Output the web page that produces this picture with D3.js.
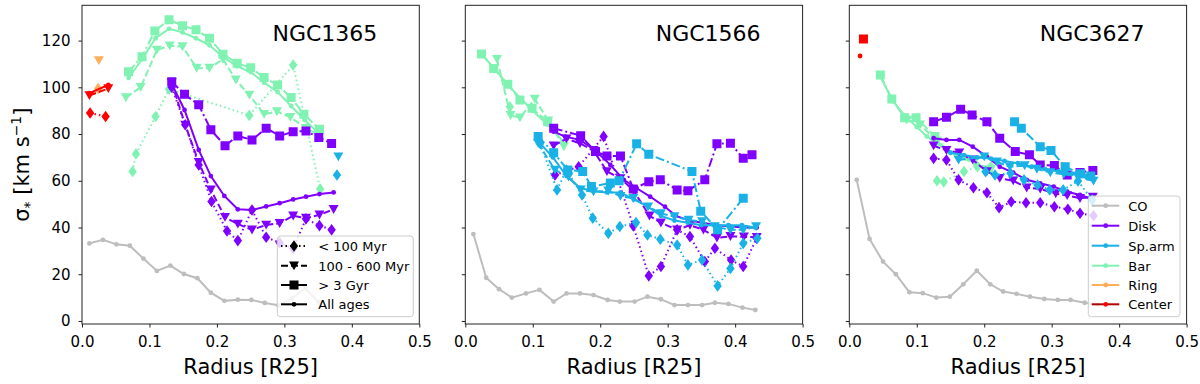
<!DOCTYPE html>
<html>
<head>
<meta charset="utf-8">
<script src="https://d3js.org/d3.v7.min.js"></script>
<style>
  body { margin: 0; background: #fff; }
  svg text { font-family: "DejaVu Sans", sans-serif; fill: #000; }
</style>
</head>
<body>
<div id="canvas"></div>
<script>
// ---- tick labels / categories
var xTicks = [0, 0.1, 0.2, 0.3, 0.4, 0.5];
var yTicks = [0, 20, 40, 60, 80, 100, 120];
var galaxies = ["NGC1365", "NGC1566", "NGC3627"];
var envNames = ["CO", "Disk", "Sp.arm", "Bar", "Ring", "Center"];
var ageNames = ["< 100 Myr", "100 - 600 Myr", "> 3 Gyr", "All ages"];

// ---- NGC1365  [radius, sigma]
var co1 = [[0.011,33.2],[0.031,34.7],[0.051,32.8],[0.071,32.2],[0.091,26.7],[0.111,21.4],[0.131,23.7],[0.151,20.1],[0.171,18.3],[0.191,12.1],[0.211,8.6],[0.231,9.1],[0.251,9.0],[0.271,7.7],[0.291,6.7],[0.311,9.5],[0.331,14],[0.351,8]];
var bar1Old = [[0.069,106.7],[0.089,113.1],[0.108,124.1],[0.129,128.9],[0.149,126.4],[0.169,124.6],[0.189,121.0],[0.209,114.2],[0.230,110.3],[0.250,108.4],[0.270,104.2],[0.290,101.0],[0.310,95.6],[0.329,88.5],[0.352,82.0]];
var bar1All = [[0.069,104],[0.089,112],[0.109,121],[0.129,125],[0.149,123.5],[0.169,121],[0.189,118],[0.209,113],[0.230,109],[0.250,106.5],[0.270,102],[0.290,98],[0.310,92],[0.330,86],[0.352,80]];
var bar1Mid = [[0.065,95.6],[0.087,100],[0.111,116],[0.130,117.8],[0.149,117.4],[0.170,108.2],[0.189,108.2],[0.209,112],[0.228,103.2],[0.248,96.7],[0.270,88.5],[0.289,89.6],[0.309,87.2],[0.332,82.5],[0.351,79.6]];
var bar1Young = [[0.075,64],[0.080,71.5],[0.109,87.5],[0.129,99.2],[0.248,88],[0.313,109.5],[0.353,56.5]];
var disk1Old = [[0.133,102.4],[0.152,97],[0.173,92.5],[0.191,81.8],[0.212,75],[0.231,79.2],[0.252,77.5],[0.273,82.5],[0.293,79.2],[0.313,81],[0.332,81.3],[0.351,78.5],[0.370,76]];
var disk1All = [[0.133,101.5],[0.152,90.3],[0.173,73.2],[0.191,62],[0.211,53.5],[0.231,47.8],[0.252,47.5],[0.273,49],[0.293,50.4],[0.313,52],[0.332,53.2],[0.352,54.3],[0.373,55]];
var disk1Mid = [[0.133,102],[0.153,83.9],[0.173,67.9],[0.191,56.1],[0.212,44.4],[0.231,41.5],[0.252,39],[0.273,41.1],[0.293,41.8],[0.313,45],[0.332,44],[0.352,45.4],[0.373,47.8]];
var disk1Young = [[0.133,100],[0.153,84],[0.173,66.8],[0.192,51.1],[0.215,38.5],[0.231,34.4],[0.252,47.5],[0.273,35.8],[0.293,33.5],[0.313,31],[0.332,43.7],[0.352,40.8],[0.370,39]];
var arm1Mid = [[0.380,70.3]];
var arm1Young = [[0.378,62.5]];
var ring1Mid = [[0.025,111.5]];
var ring1Young = [[0.024,99.5]];
var center1Young = [[0.012,89],[0.035,87.5]];
var center1Mid = [[0.011,96.5],[0.039,99.5]];
var center1All = [[0.011,97.5],[0.039,101]];

// ---- NGC1566
var co2 = [[0.012,37.2],[0.031,18.5],[0.050,13.6],[0.069,10.0],[0.090,11.8],[0.110,13.3],[0.131,8.3],[0.150,11.8],[0.170,11.8],[0.190,11.1],[0.211,9.0],[0.229,8.3],[0.251,8.3],[0.270,10.4],[0.290,9.3],[0.310,6.8],[0.330,6.8],[0.351,6.8],[0.370,7.8],[0.390,7.3],[0.411,5.7],[0.430,4.7]];
var bar2Old = [[0.024,114.3],[0.042,108],[0.063,101.3],[0.081,94.6],[0.099,91],[0.122,85.3]];
var bar2All = [[0.024,114],[0.044,108],[0.063,101],[0.083,95],[0.100,90],[0.122,84],[0.148,76]];
var bar2Mid = [[0.047,112],[0.067,88],[0.081,87],[0.103,95],[0.123,85.7],[0.146,74.6]];
var bar2Young = [[0.066,91.7]];
var disk2Old = [[0.131,82.5],[0.171,79.3],[0.193,72.5],[0.210,70.6],[0.230,70.6],[0.249,56.5],[0.272,59.6],[0.289,60.4],[0.314,56.1],[0.330,55.7],[0.355,60.4],[0.373,75.8],[0.393,76.1],[0.412,69.6],[0.425,71.1]];
var disk2All = [[0.131,81],[0.148,78.9],[0.170,77.5],[0.192,73.2],[0.215,66.8],[0.235,60.4],[0.254,56.8],[0.274,53.2],[0.296,48.9],[0.312,45],[0.332,43],[0.352,42],[0.372,41],[0.392,40.5],[0.412,40],[0.432,40]];
var disk2Mid = [[0.131,75],[0.150,78],[0.170,76],[0.190,73],[0.210,64],[0.230,61],[0.249,56],[0.273,45],[0.290,42],[0.314,39],[0.333,41],[0.353,39],[0.373,35.6],[0.393,36.2],[0.413,36],[0.432,35.8]];
var disk2Young = [[0.133,62.5],[0.168,66],[0.205,79],[0.249,40.7],[0.272,19.3],[0.290,23.3],[0.314,39],[0.333,36.1],[0.355,25.4],[0.370,31.1],[0.394,26.1],[0.412,23.3],[0.432,35.4]];
var arm2Old = [[0.108,79],[0.131,72],[0.152,64.6],[0.174,64],[0.187,57.5],[0.215,59],[0.228,60],[0.254,75.8],[0.272,71.3],[0.336,64],[0.349,47],[0.374,39],[0.412,52.5]];
var arm2All = [[0.108,77],[0.130,70],[0.150,62],[0.170,57],[0.190,55.5],[0.210,55],[0.230,55],[0.250,52],[0.270,49],[0.290,45],[0.310,43],[0.330,42],[0.350,41],[0.370,41],[0.390,41],[0.410,41],[0.430,40]];
var arm2Mid = [[0.108,76],[0.133,64.6],[0.153,61.7],[0.171,56.1],[0.190,55.3],[0.212,55.7],[0.230,53.4],[0.249,52.5],[0.271,48.9],[0.290,46],[0.310,44.7],[0.331,43.2],[0.351,42.5],[0.370,40.4],[0.393,39],[0.412,39],[0.431,40.4]];
var arm2Young = [[0.111,76],[0.136,56.1],[0.150,64.6],[0.173,53.9],[0.189,44],[0.212,37.5],[0.229,40.4],[0.253,42.1],[0.270,36.8],[0.289,35],[0.314,32.5],[0.330,24],[0.351,26.1],[0.374,15],[0.393,22.5],[0.412,33.2],[0.433,35.4]];

// ---- NGC3627
var co3 = [[0.011,60.4],[0.030,35.1],[0.050,25.4],[0.069,20],[0.089,12.3],[0.109,11.9],[0.129,10],[0.149,10.4],[0.169,15.7],[0.189,21.5],[0.209,15.7],[0.228,12.6],[0.248,11.6],[0.268,10.4],[0.289,9.4],[0.309,9],[0.328,9],[0.349,7.8],[0.368,7]];
var center3Old = [[0.021,120.7]];
var center3All = [[0.016,113.4]];
var bar3Old = [[0.046,105.3],[0.063,95],[0.082,87],[0.099,87],[0.127,79]];
var bar3All = [[0.046,104.5],[0.065,94],[0.082,88],[0.100,83],[0.115,79],[0.130,76],[0.150,72],[0.170,70],[0.190,67],[0.210,64]];
var bar3Mid = [[0.085,86],[0.105,84],[0.130,77],[0.160,70],[0.185,68],[0.210,65]];
var bar3Young = [[0.130,60],[0.140,59.5],[0.170,64],[0.190,66],[0.210,66]];
var disk3Old = [[0.125,85.3],[0.144,87.2],[0.165,90.6],[0.182,88.2],[0.204,85.3],[0.223,78.2],[0.246,72.5],[0.267,71.1],[0.283,66.8],[0.304,66.5],[0.323,62.5],[0.342,63.5],[0.361,64.4]];
var disk3All = [[0.125,78.2],[0.144,77.5],[0.163,77.5],[0.183,74.6],[0.204,70.3],[0.223,66],[0.243,63.5],[0.263,60.4],[0.283,58.9],[0.303,57.5],[0.323,55.3],[0.342,53.9],[0.357,52.5]];
var disk3Mid = [[0.125,75],[0.144,73],[0.163,72],[0.183,69],[0.204,64],[0.223,61.1],[0.243,60],[0.263,57],[0.283,56.5],[0.306,54.5],[0.323,53.7],[0.342,52.5],[0.361,53]];
var disk3Young = [[0.125,69.6],[0.144,68.9],[0.162,60.4],[0.184,57],[0.204,54.9],[0.222,48.5],[0.240,51],[0.262,50.6],[0.283,50.6],[0.304,48.9],[0.324,47.8],[0.342,46.1],[0.362,45]];
var arm3Old = [[0.245,85.3],[0.255,82.5],[0.283,74.6],[0.299,73],[0.320,66],[0.343,63],[0.358,62]];
var arm3All = [[0.150,72],[0.170,71],[0.190,70],[0.210,69.5],[0.230,68.5],[0.250,67.5],[0.270,66],[0.290,65],[0.310,64],[0.330,63],[0.350,62],[0.360,61.5]];
var arm3Mid = [[0.162,68.9],[0.200,70.3],[0.219,68.1],[0.238,66],[0.260,66.5],[0.278,65],[0.298,63.5],[0.318,62.8],[0.338,62],[0.362,59.9]];
var arm3Young = [[0.202,63.9],[0.216,62.5],[0.239,63.2],[0.259,60.4],[0.279,58.2],[0.297,56.1],[0.317,56.1],[0.339,59.9],[0.360,51.8]];

// colours of environments
var envColor = {"CO":"#bdbdbd","Disk":"#7f00ff","Sp.arm":"#1ab2e6","Bar":"#80f2b2","Ring":"#ffae5c","Center":"#ff0000"};

// series table: [panel, env, age, points]
var series = [
  [0,"CO","co",co1],
  [0,"Bar","> 3 Gyr",bar1Old],[0,"Bar","All ages",bar1All],[0,"Bar","100 - 600 Myr",bar1Mid],[0,"Bar","< 100 Myr",bar1Young],
  [0,"Disk","> 3 Gyr",disk1Old],[0,"Disk","All ages",disk1All],[0,"Disk","100 - 600 Myr",disk1Mid],[0,"Disk","< 100 Myr",disk1Young],
  [0,"Sp.arm","100 - 600 Myr",arm1Mid],[0,"Sp.arm","< 100 Myr",arm1Young],
  [0,"Ring","100 - 600 Myr",ring1Mid],[0,"Ring","< 100 Myr",ring1Young],
  [0,"Center","< 100 Myr",center1Young],[0,"Center","100 - 600 Myr",center1Mid],[0,"Center","All ages",center1All],

  [1,"CO","co",co2],
  [1,"Bar","> 3 Gyr",bar2Old],[1,"Bar","All ages",bar2All],[1,"Bar","100 - 600 Myr",bar2Mid],[1,"Bar","< 100 Myr",bar2Young],
  [1,"Disk","> 3 Gyr",disk2Old],[1,"Disk","All ages",disk2All],[1,"Disk","100 - 600 Myr",disk2Mid],[1,"Disk","< 100 Myr",disk2Young],
  [1,"Sp.arm","> 3 Gyr",arm2Old],[1,"Sp.arm","All ages",arm2All],[1,"Sp.arm","100 - 600 Myr",arm2Mid],[1,"Sp.arm","< 100 Myr",arm2Young],

  [2,"CO","co",co3],
  [2,"Center","> 3 Gyr",center3Old],[2,"Center","All ages",center3All],
  [2,"Bar","> 3 Gyr",bar3Old],[2,"Bar","All ages",bar3All],[2,"Bar","100 - 600 Myr",bar3Mid],[2,"Bar","< 100 Myr",bar3Young],
  [2,"Disk","> 3 Gyr",disk3Old],[2,"Disk","All ages",disk3All],[2,"Disk","100 - 600 Myr",disk3Mid],[2,"Disk","< 100 Myr",disk3Young],
  [2,"Sp.arm","> 3 Gyr",arm3Old],[2,"Sp.arm","All ages",arm3All],[2,"Sp.arm","100 - 600 Myr",arm3Mid],[2,"Sp.arm","< 100 Myr",arm3Young]
];

// line style + marker per age group
var ageStyle = {
  "< 100 Myr":     {dash: "1.5,3",      marker: "diamond"},
  "100 - 600 Myr": {dash: "7,3",        marker: "tri"},
  "> 3 Gyr":       {dash: "9,3,2,3",    marker: "square"},
  "All ages":      {dash: null,         marker: "dot"},
  "co":            {dash: null,         marker: "dot"}
};

function markerPath(m) {
  if (m == "square") return "M-4.5,-4.5h9v9h-9Z";
  if (m == "diamond") return "M0,-5.8L4.2,0L0,5.8L-4.2,0Z";
  if (m == "tri") return "M-5,-4.3L5,-4.3L0,4.6Z";
  return "M2.4,0A2.4,2.4 0 1,1 -2.4,0A2.4,2.4 0 1,1 2.4,0Z";
}

var W = 1200, H = 384;
var panelLeft = [82, 465.3, 849.3];
var pw = 337.3, plotTop = 5.3, ph = 318.7;

var svg = d3.select("#canvas").append("svg")
  .attr("width", W).attr("height", H);

var y = d3.scaleLinear().domain([-1.3, 135.1]).range([plotTop + ph, plotTop]);

var panels = panelLeft.map(function(left, i) {
  var x = d3.scaleLinear().domain([0, 0.5]).range([left, left + pw]);
  var g = svg.append("g");
  var clipId = "clip" + i;
  g.append("clipPath").attr("id", clipId)
    .append("rect").attr("x", left).attr("y", plotTop).attr("width", pw).attr("height", ph);
  var plot = g.append("g").attr("clip-path", "url(#" + clipId + ")");

  // x axis
  var xa = g.append("g").attr("transform", `translate(0,${plotTop + ph})`)
    .call(d3.axisBottom(x).tickValues(xTicks).tickSize(3.5).tickPadding(9).tickFormat(d3.format(".1f")));
  xa.select(".domain").remove();
  xa.selectAll("text").attr("font-size", 15).attr("font-family", "DejaVu Sans");
  xa.selectAll("line").attr("stroke", "#222");

  // y axis
  var ya = g.append("g").attr("transform", `translate(${left},0)`)
    .call(d3.axisLeft(y).tickValues(yTicks).tickSize(3.5).tickPadding(8)
      .tickFormat(i == 0 ? d3.format("d") : function() { return ""; }));
  ya.select(".domain").remove();
  ya.selectAll("text").attr("font-size", 15).attr("font-family", "DejaVu Sans");
  ya.selectAll("line").attr("stroke", "#222");

  // frame
  g.append("rect").attr("x", left).attr("y", plotTop).attr("width", pw).attr("height", ph)
    .attr("fill", "none").attr("stroke", "#222").attr("stroke-width", 1);

  // title
  g.append("text").text(galaxies[i])
    .attr("x", left + pw - 42).attr("y", 41)
    .attr("text-anchor", "end").attr("font-size", 22);

  // x label
  g.append("text").text("Radius [R25]")
    .attr("x", left + pw / 2).attr("y", 374)
    .attr("text-anchor", "middle").attr("font-size", 21);

  return {x: x, plot: plot};
});

// y label
var yl = svg.append("text")
  .attr("transform", `translate(29,${plotTop + ph / 2}) rotate(-90)`)
  .attr("text-anchor", "middle").attr("font-size", 21);
yl.append("tspan").text("σ");
yl.append("tspan").text("*").attr("font-size", 14).attr("dy", 5);
yl.append("tspan").text(" [km s").attr("dy", -5);
yl.append("tspan").text("−1").attr("font-size", 14).attr("dy", -8);
yl.append("tspan").text("]").attr("dy", 8);

// draw series
series.forEach(function(s) {
  var p = panels[s[0]], col = envColor[s[1]], st = ageStyle[s[2]];
  var line = d3.line().x(function(d) { return p.x(d[0]); }).y(function(d) { return y(d[1]); });
  var g = p.plot.append("g");
  g.append("path").datum(s[3])
    .attr("d", line).attr("fill", "none")
    .attr("stroke", col).attr("stroke-width", 2)
    .attr("stroke-dasharray", st.dash);
  g.selectAll("path.m").data(s[3]).enter().append("path")
    .attr("class", "m")
    .attr("d", markerPath(st.marker))
    .attr("transform", function(d) { return `translate(${p.x(d[0])},${y(d[1])})`; })
    .attr("fill", col);
});

// legend helper
function legend(x0, y0, w, h, rows, lineX, markX, textX) {
  var g = svg.append("g");
  g.append("rect").attr("x", x0).attr("y", y0).attr("width", w).attr("height", h)
    .attr("rx", 3).attr("fill", "#fff").attr("fill-opacity", 0.8)
    .attr("stroke", "#cccccc").attr("stroke-width", 1);
  rows.forEach(function(r) {
    g.append("line").attr("x1", lineX[0]).attr("x2", lineX[1]).attr("y1", r.y).attr("y2", r.y)
      .attr("stroke", r.lineColor).attr("stroke-width", 2).attr("stroke-dasharray", r.dash);
    g.append("path").attr("d", markerPath(r.marker))
      .attr("transform", `translate(${markX},${r.y})`).attr("fill", r.color);
    g.append("text").text(r.label).attr("x", textX).attr("y", r.y + 5)
      .attr("font-size", 13);
  });
}

var legY1 = [246, 265.7, 285, 304.3];
legend(277.3, 236, 136, 80.7, ageNames.map(function(a, i) {
  return {y: legY1[i], label: a, color: "#000", lineColor: "#000", dash: ageStyle[a].dash, marker: ageStyle[a].marker};
}), [281, 307], 294, 318.3);

var legY3 = [205.7, 225.7, 245.7, 265.7, 285, 304.3];
legend(1088.3, 196, 91.7, 120.7, envNames.map(function(e, i) {
  return {y: legY3[i], label: e, color: envColor[e], lineColor: e == "Center" ? "#b00000" : envColor[e], dash: null, marker: "dot"};
}), [1091.7, 1119.3], 1105.7, 1128.3);
</script>
</body>
</html>
